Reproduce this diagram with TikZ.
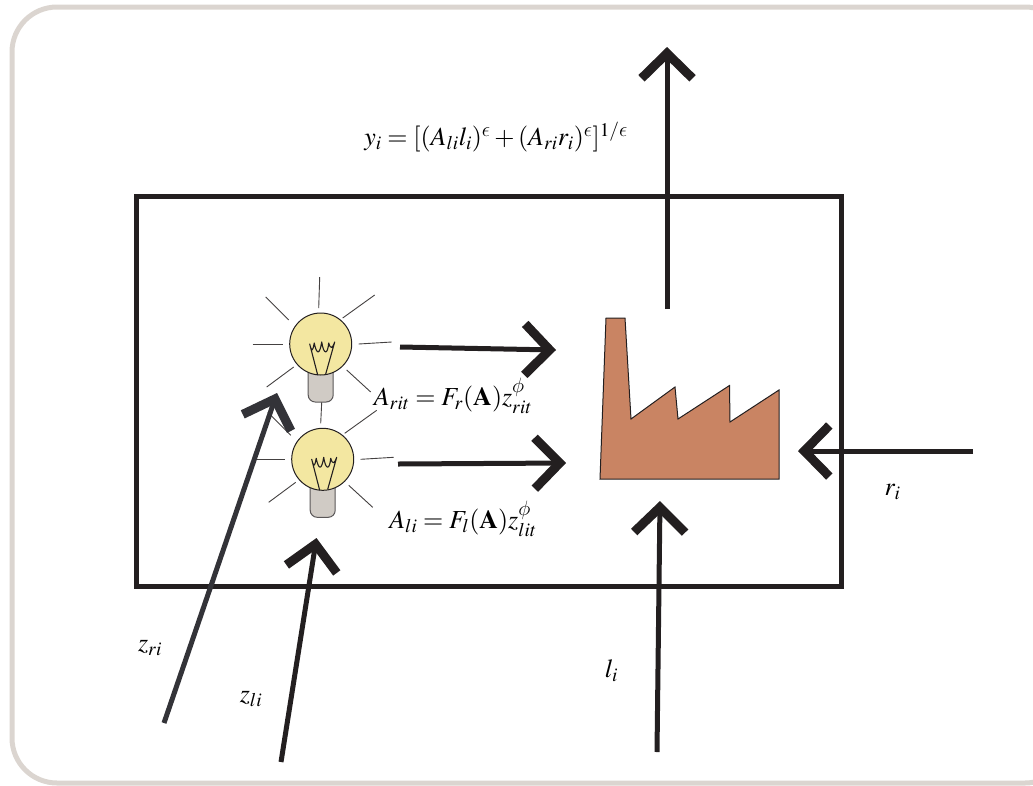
\documentclass[tikz,border=0pt]{standalone}
\usepackage{mathptmx}
\usepackage{xcolor}
\DeclareSymbolFont{cmletters}{OML}{cmm}{m}{it}
\DeclareMathSymbol{\lunate}{\mathord}{cmletters}{"0F}
\DeclareMathSymbol{\strokephi}{\mathord}{cmletters}{"1E}
\definecolor{framecolor}{RGB}{219, 213, 208}
\definecolor{inkcolor}{RGB}{35, 31, 32}
\definecolor{slatecolor}{RGB}{51, 51, 56}
\definecolor{glasscolor}{RGB}{243, 231, 161}
\definecolor{basecolor}{RGB}{208, 203, 197}
\definecolor{factorycolor}{RGB}{201, 132, 99}
\usetikzlibrary{arrows.meta}

\begin{document}
\begin{tikzpicture}[
  x=1pt, y=-1pt,
  frame/.style={draw=framecolor, rounded corners=45pt, line width=5pt},
  island/.style={draw=inkcolor, line width=5pt},
  factory/.style={draw=inkcolor, fill=factorycolor, line width=1pt},
  glass/.style={draw=inkcolor, fill=glasscolor, circle, minimum size=62pt, inner sep=0pt, line width=1pt},
  socket/.style={draw=inkcolor!75, fill=basecolor, rounded corners=7pt, line width=1pt},
  ray/.style={draw=inkcolor!85, line width=0.9pt},
  wire/.style={draw=inkcolor, line width=1.1pt},
  arrow/.style={-{Straight Barb[length=25pt, width=51pt, line width=9pt]}, line width=5pt, color=inkcolor},
  slantarrow/.style={arrow, color=slatecolor},
  eqn/.style={font=\fontsize{26}{30}\selectfont, inner sep=0pt}
]
\useasboundingbox (0,0) rectangle (1033,785);

% Outer frame
\draw[frame] (12,7) rectangle (1070,783);

% Island
\draw[island] (136,196) rectangle (841,586);

% Factory
\draw[factory] (600,479) -- (606,318) -- (625,318) -- (631,419) -- (675,387) -- (678,419) -- (729.5,385.5) -- (730,422) -- (779,390) -- (779,479) -- cycle;

% Bulbs
\foreach \name/\cx/\cy/\rayup in {top/320.7/344/67, low/322.7/459.3/57} {
  \begin{scope}[shift={(\cx,\cy)}]
    \draw[socket] (-12.5,20) -- (-12.5,58) -- (12.5,58) -- (12.5,20) -- cycle;
    \node[glass] (bulb\name) at (0,0) {};
    \draw[wire, line join=round] (-3,31) -- (-11,0) .. controls (-9,8) and (-8,8) .. (-6.5,-1) .. controls (-4,11) and (-1,11) .. (1,-2) .. controls (3,11) and (7,11) .. (8,-1) .. controls (10,6) and (12,4) .. (14,-2) -- (5,30);
    \draw[ray] (-1,-\rayup) -- (-2,-36);
    \draw[ray] (54,-49) -- (22,-26);
    \draw[ray] (-55,-47) -- (-32,-24);
    \draw[ray] (-68,0.5) -- (-38,0.5);
    \draw[ray] (38,0) -- (71,-2);
    \draw[ray] (-27,23) -- (-54,43);
    \draw[ray] (26,26) -- (50,48);
  \end{scope}
}

% Arrow ends
\coordinate (outstart) at (667,309);
\coordinate (outend) at (667,47);
\coordinate (topstart) at (400,347);
\coordinate (topend) at (556,350);
\coordinate (lowstart) at (398,464);
\coordinate (lowend) at (566,463);
\coordinate (rstart) at (973,451);
\coordinate (rend) at (798,451);
\coordinate (lstart) at (657,752);
\coordinate (lend) at (660,501);
\coordinate (zrstart) at (164,723);
\coordinate (zrend) at (277,393);
\coordinate (zlstart) at (281,762);
\coordinate (zlend) at (316.5,538);

% Labels
\node[eqn] (output) at (496,137) {$y_i = [(A_{li}l_i)^{\lunate} + (A_{ri}r_i)^{\lunate}]^{1/\lunate}$};
\node[eqn] (arit) at (453,396) {$A_{rit} = F_r(\mathbf{A})z_{rit}^{\strokephi}$};
\node[eqn] (alit) at (463,519) {$A_{li} = F_l(\mathbf{A})z_{lit}^{\strokephi}$};
\node[eqn] (zri) at (150,648) {$z_{ri}$};
\node[eqn] (zli) at (251,699) {$z_{li}$};
\node[eqn] (li) at (611.5,671) {$l_i$};
\node[eqn] (ri) at (892.5,492) {$r_i$};

% Connections
\draw[arrow] (outstart) -- (outend);
\draw[arrow] (topstart) -- (topend);
\draw[arrow] (lowstart) -- (lowend);
\draw[arrow] (rstart) -- (rend);
\draw[arrow] (lstart) -- (lend);
\draw[slantarrow] (zrstart) -- (zrend);
\draw[arrow] (zlstart) -- (zlend);

\end{tikzpicture}
\end{document}
